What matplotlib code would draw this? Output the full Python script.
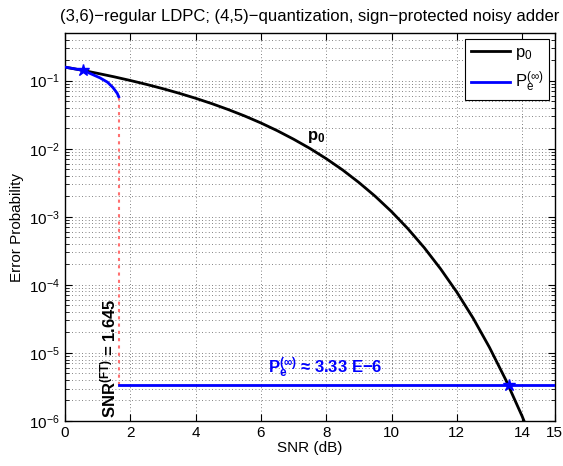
import numpy as np
import matplotlib
matplotlib.use("Agg")
from matplotlib import pyplot as plt
from matplotlib.ticker import LogLocator, NullFormatter

plt.rcParams['font.family'] = ['Liberation Sans', 'DejaVu Sans']
plt.rcParams['mathtext.default'] = 'regular'

# p0 curve
snr_p0 = [0, 0.5, 1, 1.5, 2, 2.5, 3, 3.5, 4, 4.5, 5, 5.5, 6, 6.5, 7, 7.5, 8, 8.5,
          9, 9.5, 10, 10.5, 11, 11.5, 12, 12.5, 13, 13.5, 14, 14.5]
p0 = [0.158, 0.143, 0.128, 0.114, 0.1006, 0.088, 0.0762, 0.0652, 0.0551, 0.0459,
      0.0376, 0.0303, 0.0239, 0.0184, 0.0138, 0.0101, 7.14e-3, 4.88e-3, 3.19e-3,
      2.0e-3, 1.19e-3, 6.68e-4, 3.52e-4, 1.72e-4, 7.8e-5, 3.23e-5, 1.2e-5,
      4.0e-6, 1.17e-6, 3.0e-7]

# density-evolution curve above the threshold
snr_pe = [0, 0.55, 1.07, 1.3, 1.47, 1.6, 1.645]
pe = [0.158, 0.142, 0.11, 0.095, 0.079, 0.065, 0.058]

snr_ft = 1.645
pe_floor = 3.33e-6
snr_star = [0.55, 13.6]
p_star = [0.142, 3.33e-6]

fig = plt.figure(figsize=(5.63, 4.66), dpi=100)
ax = fig.add_axes([0.1155, 0.0966, 0.870, 0.8324])

ax.plot(snr_p0, p0, color='k', lw=2, label=r'$p_0$', zorder=3)
ax.plot(snr_pe, pe, color='b', lw=2, label=r'$P_e^{(\infty)}$', zorder=4)
ax.plot([snr_ft, 15], [pe_floor, pe_floor], color='b', lw=2, zorder=4)
ax.plot([snr_ft, snr_ft], [pe_floor, pe[-1]], color='#ff7070', lw=1.5,
        ls=(0, (1.5, 2)), zorder=2)
ax.plot(snr_star, p_star, ls='none', marker='*', ms=9, color='b', zorder=5)

ax.set_yscale('log')
ax.set_xlim(0, 15)
ax.set_ylim(1e-6, 0.5)
ax.set_xticks([0, 2, 4, 6, 8, 10, 12, 14, 15])
ax.set_yticks([1e-6, 1e-5, 1e-4, 1e-3, 1e-2, 1e-1])
ax.yaxis.set_minor_locator(LogLocator(base=10, subs=np.arange(2, 10), numticks=20))
ax.yaxis.set_minor_formatter(NullFormatter())
ax.tick_params(which='both', direction='in', top=True, right=True, labelsize=11)
ax.tick_params(which='major', length=5)
ax.tick_params(which='minor', length=3)
ax.grid(True, which='major', axis='x', ls=(0, (1, 3)), color='0.35', lw=0.6)
ax.grid(True, which='both', axis='y', ls=(0, (1, 3)), color='0.35', lw=0.6)
for s in ax.spines.values():
    s.set_linewidth(1)

ax.set_xlabel('SNR (dB)', fontsize=11, labelpad=1)
ax.set_ylabel('Error Probability', fontsize=11)
ax.set_title('(3,6)\u2212regular LDPC; (4,5)\u2212quantization, sign\u2212protected noisy adder',
             fontsize=12, pad=9)

ax.text(7.4, 0.0115, r'$p_0$', fontsize=12, fontweight='bold', ha='left', va='bottom')
ax.text(7.96, 4.0e-6, r'$P_e^{(\infty)}$' + ' \u2248 3.33 E\u22126',
        fontsize=12, fontweight='bold', color='b', ha='center', va='bottom')
ax.text(1.32, 1.1e-6, r'SNR$^{(FT)}$ = 1.645', fontsize=12, fontweight='bold',
        rotation=90, ha='center', va='bottom')

leg = ax.legend(loc='upper right', fontsize=12, handlelength=2.3, handletextpad=0.3,
                borderpad=0.35, labelspacing=0.5, fancybox=False,
                framealpha=1, edgecolor='k', borderaxespad=0.35)
leg.get_frame().set_linewidth(0.8)

fig.savefig('out.png', dpi=100)
